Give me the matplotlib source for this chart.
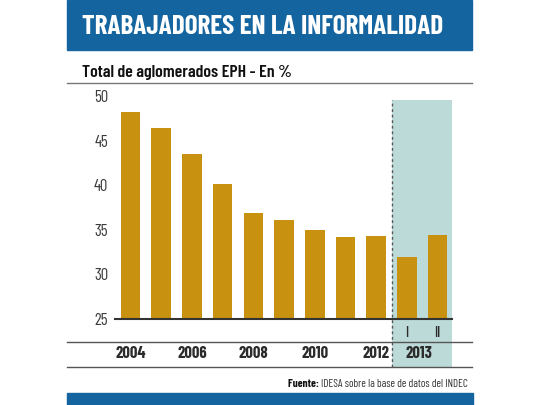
import matplotlib
matplotlib.use("Agg")
from matplotlib import pyplot as plt
from matplotlib.patches import Rectangle
from matplotlib.lines import Line2D

# data
years = ["2004", "2005", "2006", "2007", "2008", "2009", "2010", "2011", "2012", "2013 I", "2013 II"]
informal = [48.2, 46.4, 43.5, 40.1, 36.85, 36.1, 35.0, 34.2, 34.3, 31.9, 34.4]
year_labels = ["2004", "2006", "2008", "2010", "2012"]
year_label_pos = [0, 2, 4, 6, 8]
half_labels = ["I", "II"]
yticks = [25, 30, 35, 40, 45, 50]

BAR = "#c8910f"
SHADE = "#bcdad7"
BLUE = "#14649f"
TXT = "#2b2b2b"

W, H = 540, 405


def px(x, y):
    # pixel position (from top-left) -> figure fraction
    return x / W, 1 - y / H


def fit_width(t, target, fig):
    # shrink/grow a text so it spans target pixels
    r = fig.canvas.get_renderer()
    w = t.get_window_extent(r).width
    t.set_fontsize(t.get_fontsize() * target / w)


plt.rcParams["font.family"] = ["Barlow Condensed", "DejaVu Sans"]
fig = plt.figure(figsize=(5.4, 4.05), dpi=100)

# header bar + title
fig.patches.append(Rectangle(px(67, 50), (472 - 67) / W, 50 / H, transform=fig.transFigure,
                             color=BLUE, zorder=0))
title = fig.text(*px(82, 27), "TRABAJADORES EN LA INFORMALIDAD", color="white", fontsize=18,
                 fontweight="bold", va="center", ha="left")
fit_width(title, 361, fig)
sub = fig.text(*px(82, 72.5), "Total de aglomerados EPH - En %", color="#111111", fontsize=12,
               fontweight="semibold", va="center", ha="left")
fit_width(sub, 210, fig)
fig.lines.append(Line2D([67 / W, 472 / W], [1 - 83 / H] * 2, transform=fig.transFigure,
                        color="#777777", lw=1.0))

# chart area
left, bottom = px(115, 319)
right, top = px(452, 96)
ax = fig.add_axes([left, bottom, right - left, top - bottom])
xpos = list(range(len(informal)))
ax.set_xlim(-0.505, 10.47)
ax.set_ylim(25, 50)

# shaded 2013 band
split = (xpos[8] + xpos[9]) / 2
y_low = 25 - (367 - 319) / 8.92
y_high = 25 + (319 - 100) / 8.92
ax.add_patch(Rectangle((split, y_low), 10.47 - split, y_high - y_low, color=SHADE,
                       clip_on=False, zorder=0, lw=0))
ax.plot([split, split], [y_low, y_high], color="#555555", lw=1.0, ls=(0, (2, 2)),
        clip_on=False, zorder=1)

ax.bar(xpos, informal, width=0.64, bottom=0, color=BAR, zorder=2)

ax.set_yticks(yticks)
ax.set_yticklabels([str(t) for t in yticks], fontsize=12, color="#3a3a3a")
ax.tick_params(axis="y", length=0, pad=5)
ax.set_xticks([])
for s in ["top", "right", "left"]:
    ax.spines[s].set_visible(False)
ax.spines["bottom"].set_color("#333333")
ax.spines["bottom"].set_linewidth(1.5)
ax.patch.set_visible(False)

# category labels under the axis
lab_y = 25 - (354 - 319) / 8.92
half_y = 25 - (333 - 319) / 8.92
for lab, p in zip(year_labels, year_label_pos):
    ax.text(p, lab_y, lab, ha="center", va="center", fontsize=12, fontweight="bold",
            color=TXT, clip_on=False)
for lab, p in zip(half_labels, xpos[9:]):
    ax.text(p, half_y, lab, ha="center", va="center", fontsize=10.5, fontweight="medium",
            color=TXT, clip_on=False)
ax.text((xpos[9] + xpos[10]) / 2 - 0.1, lab_y, "2013", ha="center", va="center", fontsize=12,
        fontweight="bold", color=TXT, clip_on=False)

for yy in (342, 367):
    fig.lines.append(Line2D([67 / W, 472 / W], [1 - yy / H] * 2, transform=fig.transFigure,
                            color="#555555", lw=1.0))

# source line
src = fig.text(*px(468, 384), "IDESA sobre la base de datos del INDEC", fontsize=8,
               color="#333333", ha="right", va="center")
ax.annotate("Fuente: ", xy=(0, 0.5), xycoords=src, ha="right", va="center", fontsize=8,
            fontweight="bold", color="#111111")

# footer bar
fig.patches.append(Rectangle(px(67, 405), (473 - 67) / W, 12 / H, transform=fig.transFigure,
                             color=BLUE, zorder=0))

fig.savefig("out.png", dpi=100)
